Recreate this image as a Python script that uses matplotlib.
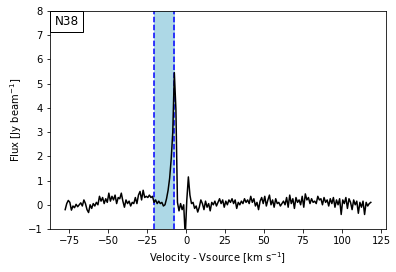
import numpy as np
import matplotlib
matplotlib.use("Agg")
import matplotlib.pyplot as plt

# spectrum channels, 1 km/s apart starting at v0
v0 = -77.5
dv = 1.0
flux = [
    # -77.5 .. -26.5
    -0.20, 0.05, 0.18, 0.10, -0.22, -0.05, -0.12, 0.02, -0.08, 0.00,
    0.08, -0.05, 0.20, 0.05, -0.20, -0.32, 0.00, -0.15, 0.05, -0.05,
    0.10, 0.00, 0.35, 0.15, 0.30, 0.05, 0.25, 0.10, 0.48, 0.15,
    0.35, 0.20, 0.40, 0.05, 0.30, 0.25, 0.48, 0.15, -0.10, 0.20,
    0.05, 0.15, -0.05, 0.10, 0.05, 0.30, 0.05, 0.40, 0.55, 0.20,
    0.60, 0.30,
    # -25.5 .. -12.5
    0.35, 0.30, 0.40, 0.30, 0.35, 0.10, 0.20, 0.05, 0.15, 0.05,
    0.10, -0.05, 0.00, 0.25,
    # line, -11.5 .. 3.5
    0.60, 1.10, 1.90, 3.00, 5.45, 3.95, 0.10, -0.25, 0.05, -0.20,
    0.00, -1.30, 0.20, 1.15, 0.40, 0.05,
    # 4.5 .. 118.5
    0.10, -0.15, -0.05, -0.30, -0.10, 0.20, 0.05, -0.20, 0.15, -0.10,
    0.05, -0.25, 0.10, 0.00, 0.15, -0.05, 0.10, 0.25, 0.05, 0.20,
    -0.10, 0.15, 0.00, 0.20, 0.10, 0.25, 0.05, 0.20, -0.15, 0.10,
    0.00, 0.15, 0.05, 0.25, 0.10, 0.20, 0.05, 0.35, 0.10, 0.25,
    -0.05, 0.10, -0.20, 0.15, 0.30, 0.05, 0.35, -0.05, 0.20, 0.40,
    0.00, 0.20, -0.10, 0.25, 0.05, 0.10, -0.05, 0.05, 0.15, 0.00,
    0.30, -0.10, 0.40, 0.05, 0.25, -0.15, 0.30, 0.10, 0.20, 0.00,
    0.35, -0.10, 0.45, 0.20, 0.30, 0.05, 0.25, 0.10, 0.15, 0.05,
    0.35, 0.20, 0.25, 0.00, 0.30, 0.10, 0.20, -0.05, 0.25, 0.05,
    0.30, -0.10, 0.20, 0.00, 0.25, -0.40, 0.20, 0.05, 0.30, -0.15,
    0.25, 0.10, -0.20, 0.20, 0.00, 0.15, -0.35, 0.10, -0.10, 0.15,
    -0.40, 0.10, -0.05, 0.05, 0.10,
]
velocity = v0 + dv * np.arange(len(flux))

# integration window
v_lo = -20.5
v_hi = -7.5
source = "N38"

fig, ax = plt.subplots(figsize=(396 / 72, 272 / 72), dpi=72)
fig.subplots_adjust(left=0.126, right=0.975, top=0.96, bottom=0.158)

ax.axvspan(v_lo, v_hi, color="lightblue", zorder=1)
ax.axvline(v_lo, color="blue", ls="--", lw=1.5, zorder=2)
ax.axvline(v_hi, color="blue", ls="--", lw=1.5, zorder=2)
ax.plot(velocity, flux, color="black", lw=1.5, zorder=3)

ax.set_ylim(-1, 8)
ax.set_xlabel(r"Velocity - Vsource [km s$^{-1}$]")
ax.set_ylabel(r"Flux [Jy beam$^{-1}$]")

# label box sitting in the top-left corner of the axes
ax.annotate(source, xy=(0, 1), xycoords="axes fraction",
            xytext=(4.5, -4.5), textcoords="offset points",
            fontsize=12, ha="left", va="top",
            bbox=dict(facecolor="white", edgecolor="black", pad=4))

fig.savefig("out.png", dpi=72)
